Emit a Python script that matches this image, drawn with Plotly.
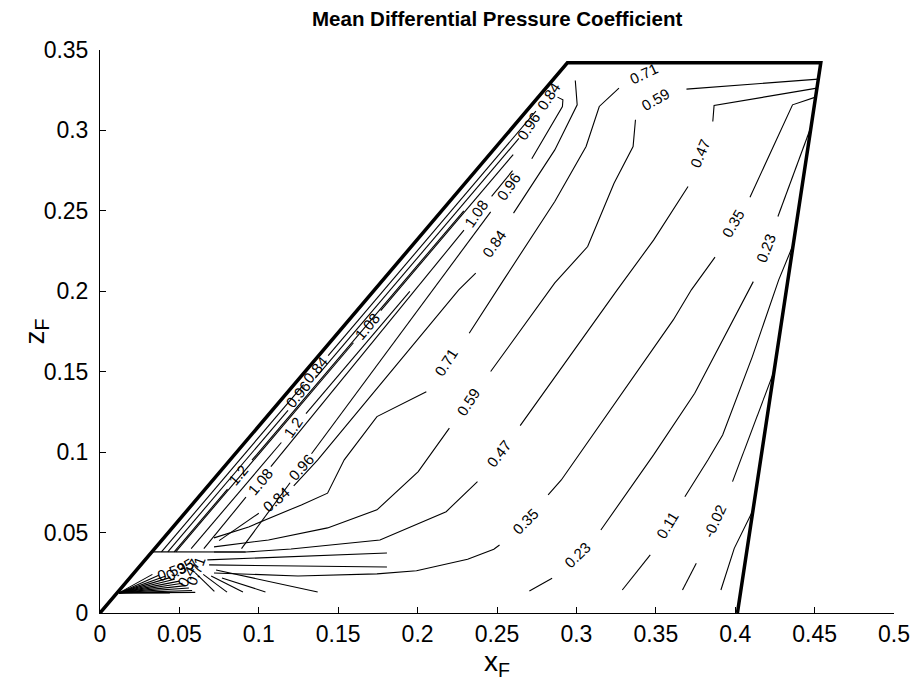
import plotly.graph_objects as go

# Domain outline (trapezoidal plate)
outline_x = [0.0, 0.2943, 0.4539, 0.4014]
outline_y = [0.0, 0.342, 0.342, 0.0]

# Contour paths, one pair of lists per level; None separates visible pieces
c_m014_x = [0.4113, 0.3994, 0.3910]
c_m014_y = [0.0641, 0.0402, 0.0143]

c_m002_x = [0.4236, 0.3983, None, 0.3755, 0.3668]
c_m002_y = [0.1480, 0.0817, None, 0.0309, 0.0143]

c_011_x = [0.4365, 0.4274, 0.4108, 0.3921, 0.3828, 0.3683, None, 0.3465, 0.3289]
c_011_y = [0.2289, 0.2071, 0.1594, 0.1107, 0.0951, 0.0723, None, 0.0361, 0.0143]

c_023_x = [0.4477, 0.4269, None, 0.4114, 0.3921, 0.3745, 0.3486, 0.3154, None, 0.2847, 0.2704]
c_023_y = [0.3021, 0.2465, None, 0.2060, 0.1698, 0.1366, 0.0983, 0.0516, None, 0.0216, 0.0137]

c_035_x = [0.4506, 0.4361, 0.4093, None, 0.3873, 0.3724, 0.3610, 0.3486, 0.2905, 0.2822, None,
           0.2516, 0.2480, 0.2315, 0.1993, 0.1744, 0.1247, 0.0718]
c_035_y = [0.3207, 0.3159, 0.2585, None, 0.2212, 0.2009, 0.1822, 0.1646, 0.0827, 0.0734, None,
           0.0423, 0.0396, 0.0334, 0.0263, 0.0243, 0.0230, 0.0249]

c_047_x = [0.4515, 0.3867, 0.3859, None, 0.3703, 0.3486, 0.3257, 0.2646, None,
           0.2377, 0.2180, 0.1763, 0.1203, 0.0917, 0.0718]
c_047_y = [0.3263, 0.3155, 0.3055, None, 0.2651, 0.2318, 0.2009, 0.1165, None,
           0.0817, 0.0630, 0.0454, 0.0398, 0.0379, 0.0379]

c_059_x = [0.4523, 0.3693, None, 0.3372, 0.3357, 0.3237, 0.3071, 0.2864, 0.2460, None,
           0.2200, 0.2004, 0.1744, 0.1433, 0.1061, 0.0718]
c_059_y = [0.3319, 0.3257, None, 0.3066, 0.2900, 0.2672, 0.2278, 0.2052, 0.1501, None,
           0.1149, 0.0879, 0.0641, 0.0529, 0.0454, 0.0411]

c_071_x = [0.3268, 0.3144, 0.3061, 0.2864, 0.2542, 0.2325, None,
           0.2055, 0.1744, 0.1538, 0.1433, 0.1268, 0.0936, 0.0718]
c_071_y = [0.3263, 0.3149, 0.2900, 0.2558, 0.2071, 0.1739, None,
           0.1376, 0.1221, 0.0952, 0.0745, 0.0672, 0.0535, 0.0467]

c_084_x = [0.0750, 0.1000, None, 0.1220, 0.1370, 0.2259, 0.2366, None,
           0.2604, 0.2864, 0.3005, 0.2993]
c_084_y = [0.0450, 0.0620, None, 0.0790, 0.0950, 0.2009, 0.2113, None,
           0.2486, 0.2879, 0.3159, 0.3310]

c_096_x = [0.0891, 0.1197, None, 0.1332, 0.2460, None, 0.2719, 0.2912, 0.2915, 0.2881]
c_096_y = [0.0400, 0.0810, None, 0.0990, 0.2494, None, 0.2824, 0.3149, 0.3190, 0.3207]

c_108_x = [0.0654, 0.0919, None, 0.1076, 0.2292, None, 0.2466, 0.2598]
c_108_y = [0.0400, 0.0720, None, 0.0910, 0.2380, None, 0.2590, 0.2750]

c_120a_x = [0.0467, 0.0803, None, 0.0957, 0.2291]
c_120a_y = [0.0380, 0.0770, None, 0.0950, 0.2500]

c_120b_x = [0.0574, 0.1142, None, 0.1297, 0.1951]
c_120b_y = [0.0400, 0.1060, None, 0.1240, 0.2000]

c_108e_x = [0.0477, 0.1596, None, 0.1768, 0.2602]
c_108e_y = [0.0380, 0.1680, None, 0.1880, 0.2850]

c_096e_x = [0.0427, 0.1184, None, 0.1356, 0.2638]
c_096e_y = [0.0380, 0.1260, None, 0.1460, 0.2950]

c_084e_x = [0.0387, 0.1282, None, 0.1437, 0.2745]
c_084e_y = [0.0380, 0.1420, None, 0.1600, 0.3120]

# Edge of the resolved region near the apex, plus the fan of short pieces below it
edge_x = [0.0330, 0.0917]
edge_y = [0.0380, 0.0379]

fan_x = [0.0676, 0.1185, 0.1807, None, 0.0687, 0.1807, None, 0.0731, 0.1371, None,
         0.0768, 0.1042, None, 0.0700, 0.0900, None, 0.0650, 0.0800, None, 0.0600, 0.0720]
fan_y = [0.0330, 0.0348, 0.0373, None, 0.0299, 0.0286, None, 0.0267, 0.0131, None,
         0.0218, 0.0131, None, 0.0230, 0.0130, None, 0.0240, 0.0130, None, 0.0250, 0.0135]

hub_x = [0.0120, 0.0330, None, 0.0120, 0.0370, None, 0.0120, 0.0410, None, 0.0120, 0.0440, None,
         0.0120, 0.0470, None, 0.0120, 0.0500, None, 0.0120, 0.0520, None, 0.0120, 0.0540, None,
         0.0120, 0.0560, None, 0.0120, 0.0580, None, 0.0120, 0.0600, None, 0.0120, 0.0440]
hub_y = [0.0125, 0.0240, None, 0.0125, 0.0235, None, 0.0125, 0.0228, None, 0.0125, 0.0220, None,
         0.0125, 0.0210, None, 0.0125, 0.0198, None, 0.0125, 0.0185, None, 0.0125, 0.0170, None,
         0.0125, 0.0155, None, 0.0125, 0.0140, None, 0.0125, 0.0128, None, 0.0125, 0.0125]

# Inline level labels
label_text = ["-0.02", "0.11", "0.23", "0.23", "0.35", "0.35", "0.47", "0.47", "0.59", "0.59",
              "0.71", "0.71", "0.84", "0.84", "0.84", "0.96", "0.96", "0.96", "0.96", "0.84",
              "1.08", "1.08", "1.08", "1.2", "1.2", "0.59", "0.35", "0.47", "0.71"]
label_x = [0.3870, 0.3569, 0.4191, 0.3009, 0.3984, 0.2678, 0.3777, 0.2512, 0.3497, 0.2323,
           0.3424, 0.2180, 0.2481, 0.1110, 0.2823, 0.2698, 0.2574, 0.1266, 0.1247, 0.1359,
           0.2367, 0.1683, 0.1011, 0.1216, 0.0874, 0.0450, 0.0500, 0.0560, 0.0600]
label_y = [0.0568, 0.0547, 0.2268, 0.0361, 0.2424, 0.0568, 0.2859, 0.0993, 0.3191, 0.1312,
           0.3357, 0.1555, 0.2300, 0.0703, 0.3211, 0.3025, 0.2652, 0.0902, 0.1356, 0.1511,
           0.2486, 0.1779, 0.0815, 0.1151, 0.0858, 0.0260, 0.0270, 0.0250, 0.0260]
label_angle = [-65, -59, -69, -44, -60, -45, -67, -52, -30, -57,
               -25, -57, -55, -40, -57, -57, -55, -48, -50, -50,
               -55, -50, -50, -55, -50, -20, -30, -60, -70]

paths = [
    (c_m014_x, c_m014_y), (c_m002_x, c_m002_y), (c_011_x, c_011_y), (c_023_x, c_023_y),
    (c_035_x, c_035_y), (c_047_x, c_047_y), (c_059_x, c_059_y), (c_071_x, c_071_y),
    (c_084_x, c_084_y), (c_096_x, c_096_y), (c_108_x, c_108_y), (c_120a_x, c_120a_y),
    (c_120b_x, c_120b_y), (c_108e_x, c_108e_y), (c_096e_x, c_096e_y), (c_084e_x, c_084e_y),
    (edge_x, edge_y), (fan_x, fan_y), (hub_x, hub_y),
]

FONT = "Liberation Sans, Arial, Helvetica, sans-serif"

fig = go.Figure()
for px, py in paths:
    fig.add_trace(go.Scatter(x=px, y=py, mode="lines", line=dict(color="black", width=1.1),
                             hoverinfo="skip", showlegend=False))

fig.add_trace(go.Scatter(x=outline_x, y=outline_y, mode="lines",
                         line=dict(color="black", width=3.5), hoverinfo="skip", showlegend=False))

for t, lx, ly, a in zip(label_text, label_x, label_y, label_angle):
    fig.add_annotation(x=lx, y=ly, text=t, textangle=a, showarrow=False,
                       font=dict(family=FONT, size=15, color="black"))

x_ticks = [0, 0.05, 0.1, 0.15, 0.2, 0.25, 0.3, 0.35, 0.4, 0.45, 0.5]
x_tick_text = ["0", "0.05", "0.1", "0.15", "0.2", "0.25", "0.3", "0.35", "0.4", "0.45", "0.5"]
y_ticks = [0, 0.05, 0.1, 0.15, 0.2, 0.25, 0.3, 0.35]
y_tick_text = ["0", "0.05", "0.1", "0.15", "0.2", "0.25", "0.3", "0.35"]

tick_font = dict(family=FONT, size=23, color="black")
fig.update_xaxes(range=[0, 0.5], tickvals=x_ticks, ticktext=x_tick_text,
                 ticks="inside", ticklen=6, tickcolor="black", showline=True, linecolor="black",
                 linewidth=1, showgrid=False, zeroline=False, tickfont=tick_font)
fig.update_yaxes(range=[0, 0.35], tickvals=y_ticks, ticktext=y_tick_text,
                 ticks="inside", ticklen=6, tickcolor="black", showline=True, linecolor="black",
                 linewidth=1, showgrid=False, zeroline=False, tickfont=tick_font,
                 ticklabelstandoff=6)

fig.add_annotation(text="<b>Mean Differential Pressure Coefficient</b>", x=0.5, xref="paper",
                   y=1.0, yref="paper", yanchor="middle", yshift=32, showarrow=False,
                   font=dict(family=FONT, size=20.5, color="black"))
fig.add_annotation(text="x<sub>F</sub>", x=0.5, xref="paper", y=0, yref="paper", yanchor="top",
                   yshift=-31, showarrow=False, font=dict(family=FONT, size=28, color="black"))
fig.add_annotation(text="z<sub>F</sub>", x=0, xref="paper", xanchor="center", xshift=-64,
                   y=0.5, yref="paper", textangle=-90, showarrow=False,
                   font=dict(family=FONT, size=28, color="black"))

fig.update_layout(width=922, height=700, margin=dict(l=99.5, r=18.5, t=50, b=87),
                  plot_bgcolor="white", paper_bgcolor="white")
fig.write_html("out.html")
